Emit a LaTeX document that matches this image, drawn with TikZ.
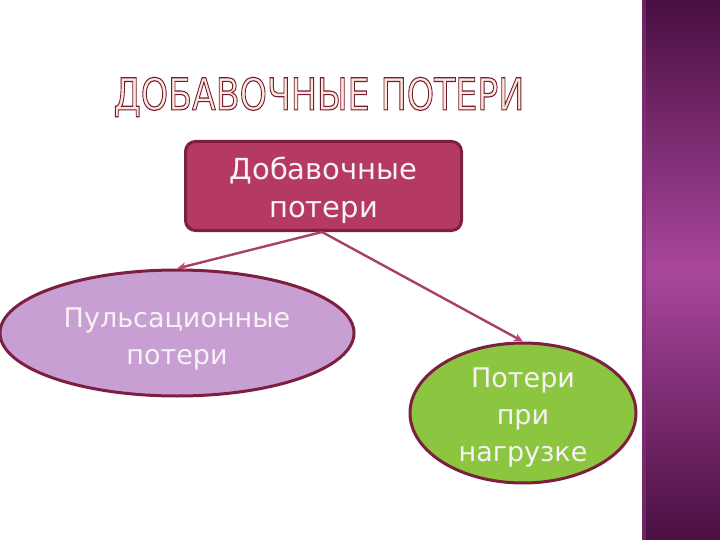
\documentclass[tikz,border=0pt]{standalone}
\usepackage{fontspec}
\setmainfont{DejaVu Sans}
\usetikzlibrary{shapes.geometric,arrows.meta,calc}
\definecolor{boxfill}{HTML}{B43A62}
\definecolor{edge}{HTML}{7D2040}
\definecolor{lav}{HTML}{C89FD3}
\definecolor{grn}{HTML}{8CC640}
\definecolor{arr}{HTML}{A8406A}
\definecolor{tipc}{HTML}{C8407A}
\definecolor{txt}{HTML}{F8F2F5}
\definecolor{ttlin}{HTML}{FBE6D8}
\definecolor{stripdark}{HTML}{4A0F42}
\definecolor{stripmid}{HTML}{A9479C}
\newcommand{\outlinetext}[1]{\special{pdf:literal direct 2 Tr 1.1 w 0.45 0.12 0.2 RG}#1\special{pdf:literal direct 0 Tr}}
\tikzset{
  lbl/.style={text=txt, align=center, font=\fontsize{27}{37}\selectfont, inner sep=0pt},
  shapebox/.style={draw=edge, line width=3pt},
  conn/.style={draw=arr, line width=2.4pt, -{Stealth[length=9pt,width=8pt,color=tipc]}},
  ttl/.style={font=\fontsize{44}{50}\selectfont, xscale=0.79, transform shape, inner sep=0pt, text=ttlin}
}
\begin{document}
\begin{tikzpicture}[x=1pt,y=-1pt]
\useasboundingbox (0,0) rectangle (720,540);
\fill[white] (0,0) rectangle (720,540);
% side strip
\shade[top color=stripdark, bottom color=stripdark, middle color=stripmid] (642,0) rectangle (720,540);
\fill[stripmid!60!stripdark, opacity=0.6] (642,0) rectangle (646,540);
% title
\node[ttl] (title) at (319,97) {\outlinetext{ДОБАВОЧНЫЕ ПОТЕРИ}};
% shapes
\node[shapebox, fill=boxfill, rounded corners=10pt, minimum width=276pt, minimum height=89pt] (top) at (323.5,186) {};
\node[shapebox, ellipse, fill=lav, minimum width=354pt, minimum height=126pt, inner sep=0pt] (left) at (177,333) {};
\node[shapebox, ellipse, fill=grn, minimum width=226pt, minimum height=140pt, inner sep=0pt] (right) at (523,413) {};
% labels
\node[lbl, font=\fontsize{29}{38}\selectfont] (toptext) at (323.5,190.5) {Добавочные\\потери};
\node[lbl] (lefttext) at (177,339) {Пульсационные\\потери};
\node[lbl] (righttext) at (523,417) {Потери\\при\\нагрузке};
% connectors
\coordinate (s) at ($(top.south)+(-1.5,0)$);
\draw[conn] (s) -- (left.north);
\draw[conn] (s) -- (right.north);
\end{tikzpicture}
\end{document}
